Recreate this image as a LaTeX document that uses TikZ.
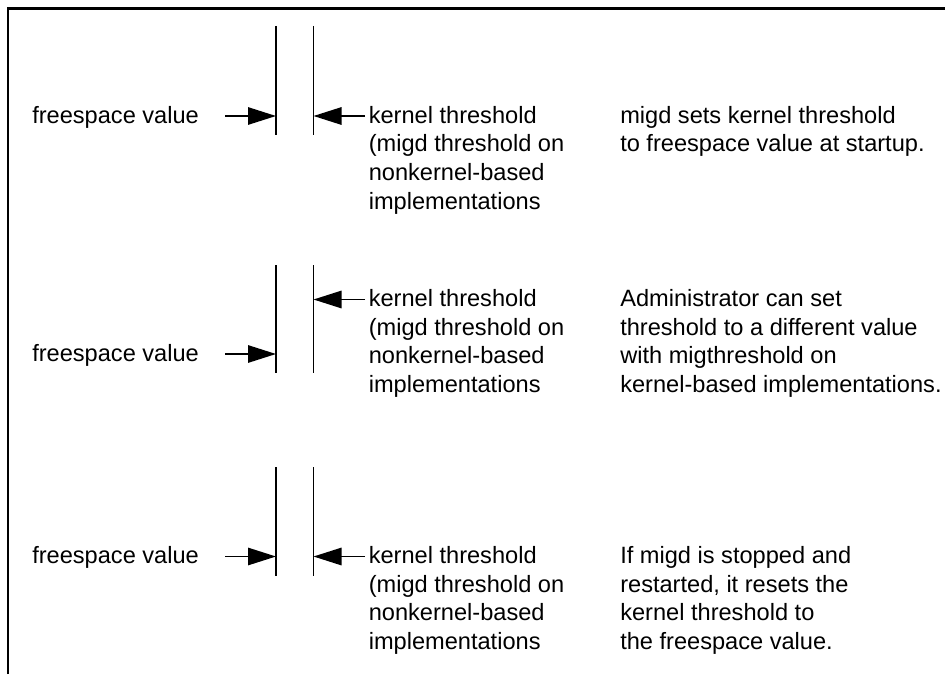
\documentclass[tikz,border=0pt]{standalone}
\usepackage{fontspec}
\setmainfont{Liberation Sans}
\usetikzlibrary{arrows.meta}

\begin{document}
\begin{tikzpicture}[x=0.75pt,y=-0.75pt,
    frameline/.style={line width=1.6pt},
    bar/.style={line width=1.4pt},
    ptr/.style={line width=1.4pt,-{Triangle[length=21pt,width=13pt]}},
    lbl/.style={inner sep=0pt,anchor=base west,align=left,
      font=\fontsize{17.7}{21.5}\selectfont}]
\useasboundingbox (0,0) rectangle (945,674);
\draw[frameline] (8,674) -- (8,8.5) -- (945,8.5);

% at startup (base = last line)
\draw[bar] (276,26) -- (276,135);
\draw[bar] (313.5,26) -- (313.5,135);
\coordinate (fstail1) at (225,116);
\coordinate (fsbar1) at (276,116);
\coordinate (kttail1) at (365,116);
\coordinate (ktbar1) at (313.5,116);
\draw[ptr] (fstail1) -- (fsbar1);
\draw[ptr] (kttail1) -- (ktbar1);
\node[lbl] (fs1) at (32,123) {freespace value};
\node[lbl] (kt1) at (368.5,209) {kernel threshold\\(migd threshold on\\nonkernel-based\\implementations};
\node[lbl] (note1) at (620,151.7) {migd sets kernel threshold\\to freespace value at startup.};

% set by administrator
\draw[bar] (276,265) -- (276,373);
\draw[bar] (313.5,265) -- (313.5,373);
\coordinate (fstail2) at (225,354);
\coordinate (fsbar2) at (276,354);
\coordinate (kttail2) at (365,299.5);
\coordinate (ktbar2) at (313.5,299.5);
\draw[ptr] (fstail2) -- (fsbar2);
\draw[ptr] (kttail2) -- (ktbar2);
\node[lbl] (fs2) at (32,361) {freespace value};
\node[lbl] (kt2) at (368.5,392.5) {kernel threshold\\(migd threshold on\\nonkernel-based\\implementations};
\node[lbl] (note2) at (620,392.5) {Administrator can set\\threshold to a different value\\with migthreshold on\\kernel-based implementations.};

% after restart
\draw[bar] (276,467) -- (276,576);
\draw[bar] (313.5,467) -- (313.5,576);
\coordinate (fstail3) at (225,556.5);
\coordinate (fsbar3) at (276,556.5);
\coordinate (kttail3) at (365,556.5);
\coordinate (ktbar3) at (313.5,556.5);
\draw[ptr] (fstail3) -- (fsbar3);
\draw[ptr] (kttail3) -- (ktbar3);
\node[lbl] (fs3) at (32,563.5) {freespace value};
\node[lbl] (kt3) at (368.5,649.5) {kernel threshold\\(migd threshold on\\nonkernel-based\\implementations};
\node[lbl] (note3) at (620,649.5) {If migd is stopped and\\restarted, it resets the\\kernel threshold to\\the freespace value.};
\end{tikzpicture}
\end{document}
